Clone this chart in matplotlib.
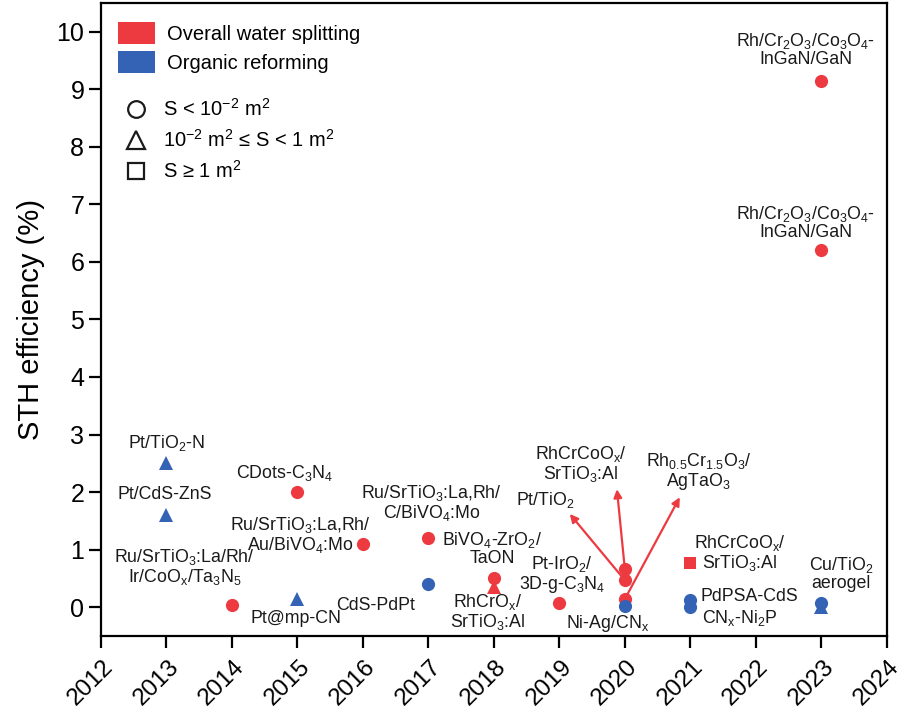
import matplotlib

matplotlib.use("Agg")  # headless rendering
import matplotlib.pyplot as plt
import matplotlib.transforms as mtransforms
from matplotlib.patches import Patch
from matplotlib.lines import Line2D

plt.rcParams["font.family"] = ["Liberation Sans", "DejaVu Sans"]
plt.rcParams["mathtext.fontset"] = "custom"
plt.rcParams["mathtext.rm"] = "Liberation Sans"
plt.rcParams["mathtext.it"] = "Liberation Sans:italic"
plt.rcParams["mathtext.default"] = "rm"

RED = "#EC3A40"
BLUE = "#3462B4"

# one entry per reported system
years = [2013, 2013, 2014, 2015, 2015, 2016, 2017, 2017, 2018, 2018, 2019,
         2020, 2020, 2020, 2020, 2021, 2021, 2021, 2023, 2023, 2023, 2023]
sth = [2.5, 1.6, 0.03, 2.0, 0.15, 1.1, 1.2, 0.4, 0.5, 0.35, 0.07,
       0.67, 0.47, 0.14, 0.02, 0.76, 0.12, 0.0, 9.15, 6.2, 0.08, 0.0]
reaction = ["org", "org", "ows", "ows", "org", "ows", "ows", "org", "ows", "ows", "ows",
            "ows", "ows", "ows", "org", "ows", "org", "org", "ows", "ows", "org", "org"]
area = ["mid", "mid", "small", "small", "mid", "small", "small", "small", "small", "mid", "small",
        "small", "small", "small", "small", "large", "small", "small", "small", "small", "small", "mid"]

# labels: (text, x, y)
labels = [
    ("Pt/TiO$_2$-N", 2013.0, 2.86),
    ("Pt/CdS-ZnS", 2012.97, 1.95),
    ("CDots-C$_3$N$_4$", 2014.8, 2.33),
    ("Ru/SrTiO$_3$:La,Rh/\nAu/BiVO$_4$:Mo", 2015.04, 1.26),
    ("Ru/SrTiO$_3$:La/Rh/\nIr/CoO$_x$/Ta$_3$N$_5$", 2013.28, 0.69),
    ("Pt@mp-CN", 2014.98, -0.2),
    ("Ru/SrTiO$_3$:La,Rh/\nC/BiVO$_4$:Mo", 2017.05, 1.81),
    ("BiVO$_4$-ZrO$_2$/\nTaON", 2017.97, 1.02),
    ("CdS-PdPt", 2016.2, 0.03),
    ("RhCrO$_x$/\nSrTiO$_3$:Al", 2017.9, -0.08),
    ("Pt-IrO$_2$/\n3D-g-C$_3$N$_4$", 2019.04, 0.57),
    ("Ni-Ag/CN$_x$", 2019.73, -0.28),
    ("Pt/TiO$_2$", 2018.78, 1.86),
    ("RhCrCoO$_x$/\nSrTiO$_3$:Al", 2019.33, 2.48),
    ("Rh$_{0.5}$Cr$_{1.5}$O$_3$/\nAgTaO$_3$", 2021.13, 2.36),
    ("RhCrCoO$_x$/\nSrTiO$_3$:Al", 2021.76, 0.95),
    ("PdPSA-CdS", 2021.91, 0.19),
    ("CN$_x$-Ni$_2$P", 2021.76, -0.19),
    ("Cu/TiO$_2$\naerogel", 2023.3, 0.58),
    ("Rh/Cr$_2$O$_3$/Co$_3$O$_4$-\nInGaN/GaN", 2022.76, 9.69),
    ("Rh/Cr$_2$O$_3$/Co$_3$O$_4$-\nInGaN/GaN", 2022.76, 6.69),
]

# arrows from the 2020 points to their labels: (start y, head x, head y)
arrows = [(0.47, 2019.16, 1.62), (0.67, 2019.88, 2.05), (0.14, 2020.84, 1.91)]

colors = {"ows": RED, "org": BLUE}
markers = {"small": "o", "mid": "^", "large": "s"}
msizes = {"small": 9.5, "mid": 10.5, "large": 8.5}

fig = plt.figure(figsize=(9.02, 7.17), dpi=100)
ax = fig.add_axes([0.112, 0.113, 0.871, 0.883])

for x, y, r, a in zip(years, sth, reaction, area):
    ax.plot(x, y, marker=markers[a], color=colors[r], markersize=msizes[a],
            markeredgewidth=0, linestyle="none", zorder=3)

for y0, hx, hy in arrows:
    ax.annotate("", xy=(hx, hy), xytext=(2020, y0),
                arrowprops=dict(arrowstyle="-|>", color=RED, lw=1.6,
                                mutation_scale=12, shrinkA=0, shrinkB=0),
                zorder=2)

for text, x, y in labels:
    ax.text(x, y, text, ha="center", va="center", fontsize=12.8,
            linespacing=1.0, color="#1a1a1a")

ax.set_xlim(2012, 2024)
ax.set_ylim(-0.5, 10.5)
ax.set_xticks(range(2012, 2025))
ax.set_yticks(range(0, 11))
ax.set_ylabel("STH efficiency (%)", fontsize=21, labelpad=8)
ax.tick_params(axis="both", direction="out", length=8.5, width=1.6, labelsize=18)
ax.tick_params(axis="x", pad=6, labelsize=17.5)
shift = mtransforms.ScaledTranslation(-10 / 100, 0, fig.dpi_scale_trans)
for lbl in ax.get_xticklabels():
    lbl.set_rotation(45)
    lbl.set_ha("center")
    lbl.set_transform(lbl.get_transform() + shift)
for spine in ax.spines.values():
    spine.set_linewidth(1.6)

kind_handles = [Patch(facecolor=RED, edgecolor="none", label="Overall water splitting"),
                Patch(facecolor=BLUE, edgecolor="none", label="Organic reforming")]
leg1 = ax.legend(handles=kind_handles, loc="upper left", bbox_to_anchor=(0.022, 0.97),
                 frameon=False, fontsize=14.5, handlelength=1.8, handleheight=1.3,
                 handletextpad=0.6, labelspacing=0.35, borderaxespad=0, borderpad=0)
ax.add_artist(leg1)

size_handles = [
    Line2D([], [], marker="o", linestyle="none", markerfacecolor="none",
           markeredgecolor="#1a1a1a", markeredgewidth=1.6, markersize=12,
           label="S < 10$^{-2}$ m$^2$"),
    Line2D([], [], marker="^", linestyle="none", markerfacecolor="none",
           markeredgecolor="#1a1a1a", markeredgewidth=1.6, markersize=13,
           label="10$^{-2}$ m$^2$ ≤ S < 1 m$^2$"),
    Line2D([], [], marker="s", linestyle="none", markerfacecolor="none",
           markeredgecolor="#1a1a1a", markeredgewidth=1.6, markersize=11.5,
           label="S ≥ 1 m$^2$"),
]
ax.legend(handles=size_handles, loc="upper left", bbox_to_anchor=(0.022, 0.85),
          frameon=False, fontsize=14.5, handlelength=1.8, handletextpad=0.4,
          labelspacing=0.45, borderaxespad=0, borderpad=0)

fig.savefig("out.png", dpi=100)
plt.close(fig)
